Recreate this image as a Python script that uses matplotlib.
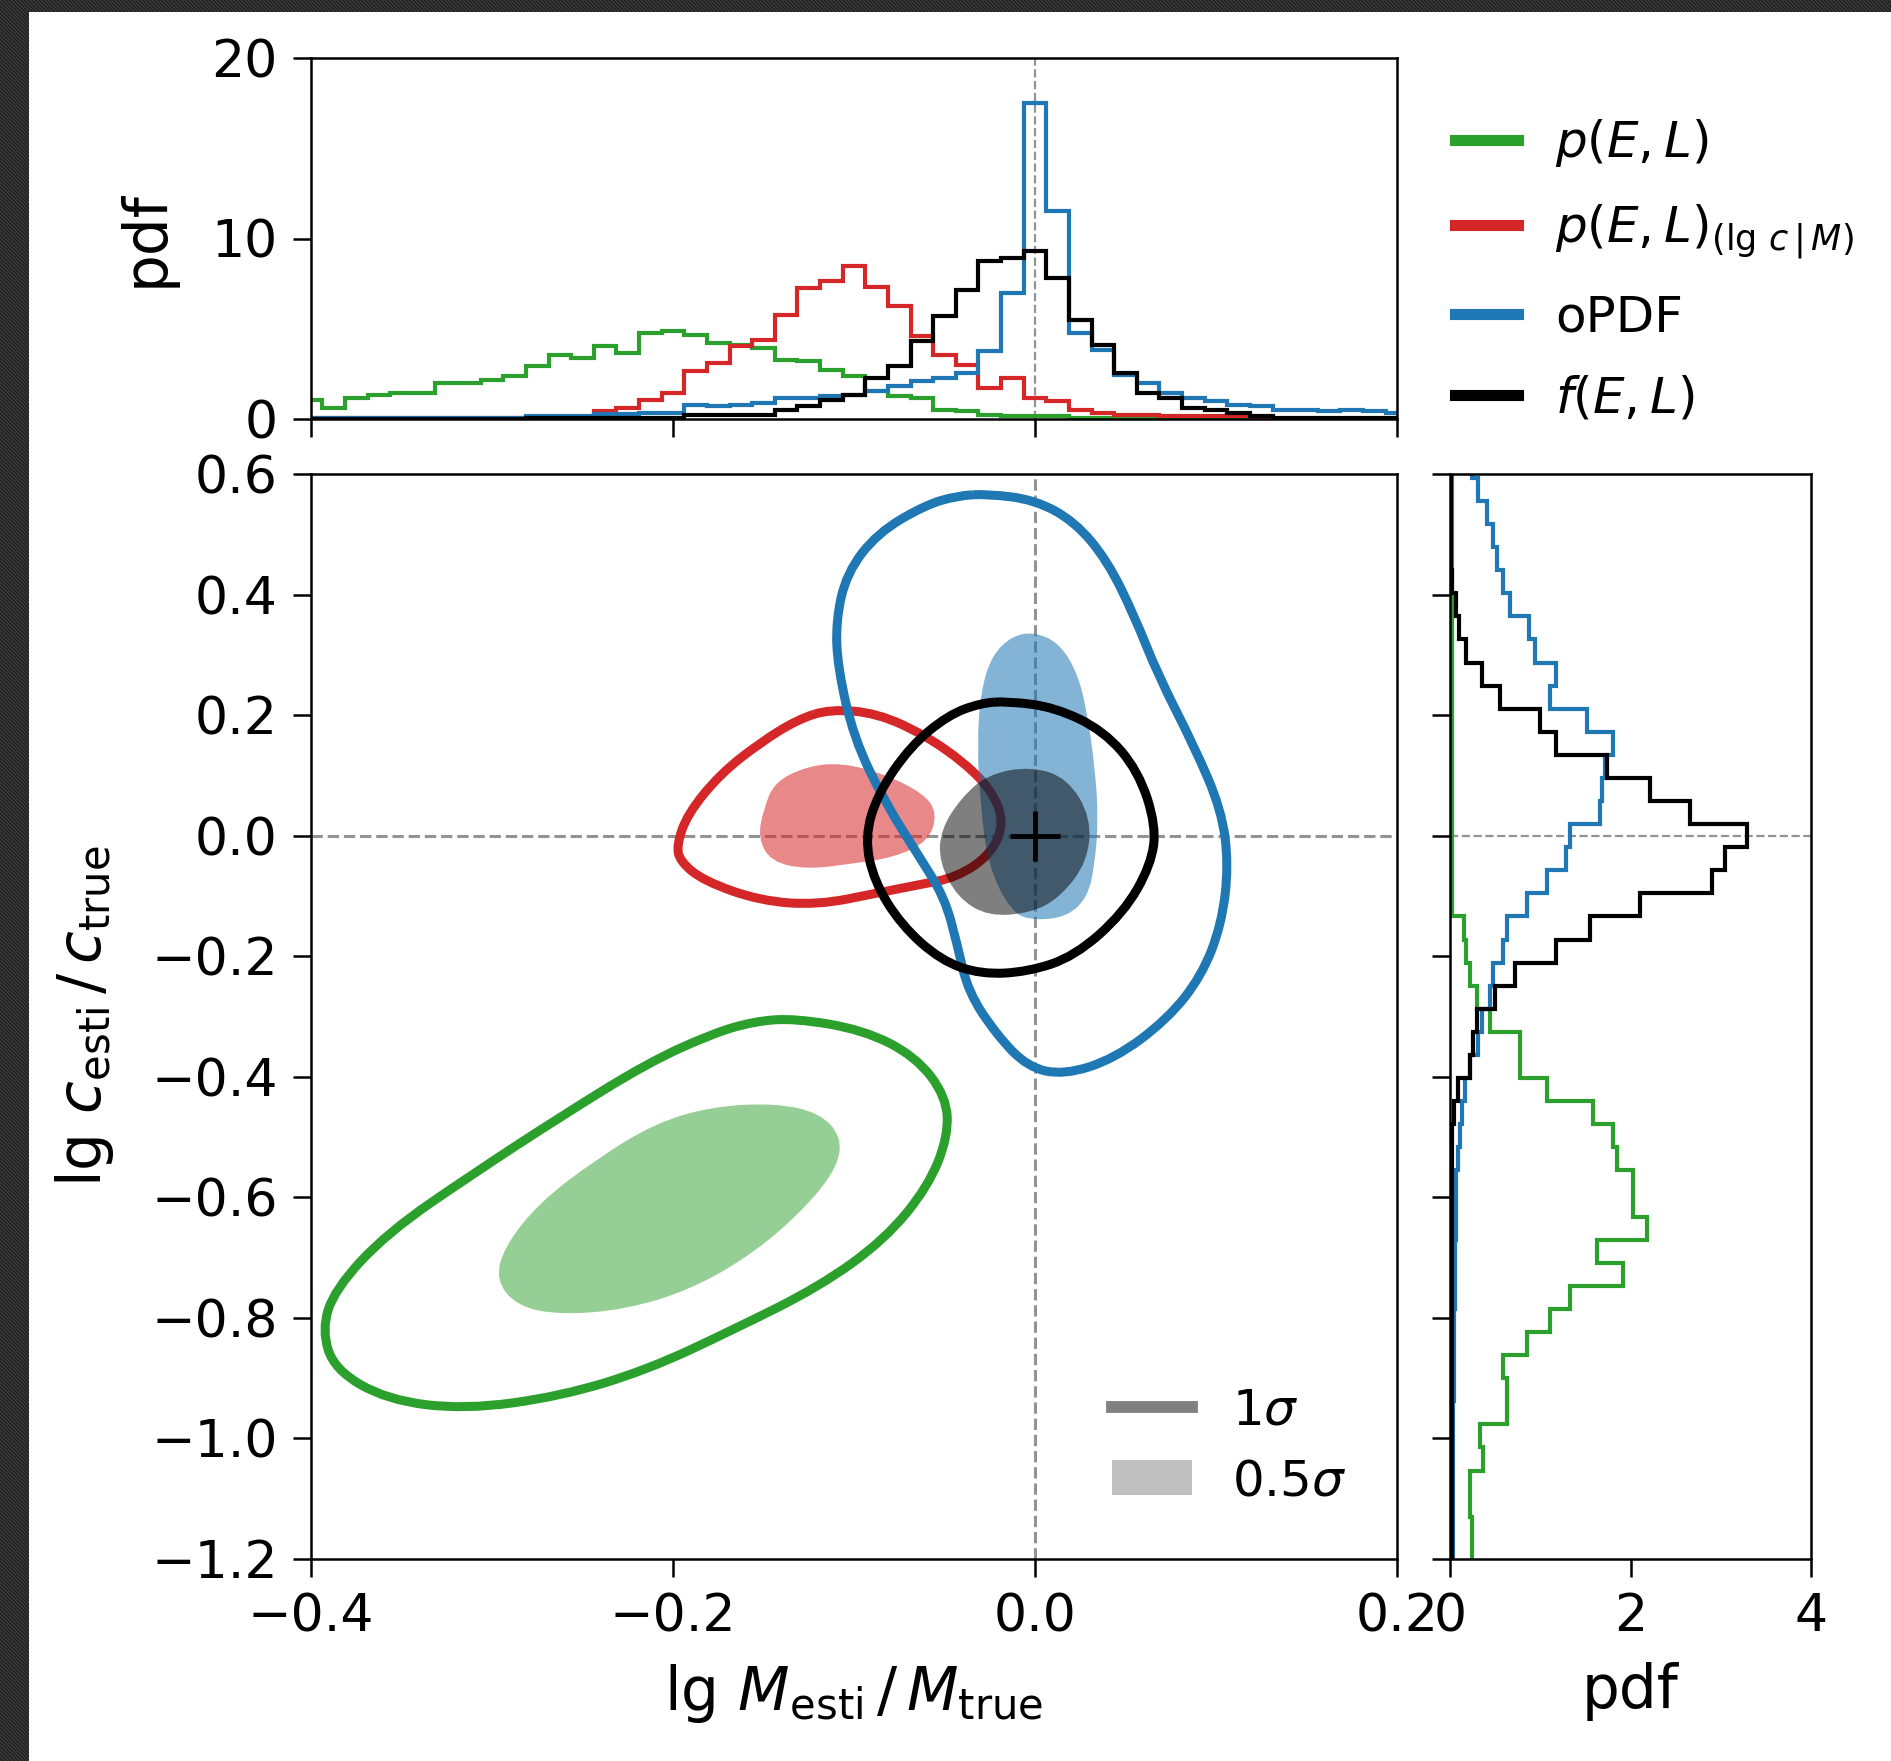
import numpy as np
import matplotlib
matplotlib.use('Agg')
import matplotlib.pyplot as plt
from matplotlib.path import Path
from matplotlib.patches import PathPatch, Rectangle, Patch
from matplotlib.lines import Line2D

# ---- marginal histogram of lg M_esti/M_true (top panel), 49 bins ----
m_edge0, m_width = -0.40625, 0.0125
pdf_m_green = [1.07, 0.61, 1.16, 1.35, 1.44, 1.44, 2.0, 2.0, 2.18, 2.36, 2.92, 3.56, 3.38, 4.02,
               3.65, 4.76, 4.85, 4.67, 4.2, 4.11, 3.93, 3.28, 3.19, 2.73, 2.36, 1.53, 1.25, 1.16,
               0.52, 0.42, 0.24, 0.15, 0.15, 0.15, 0.06, 0.03, 0.03, 0.02, 0.02, 0.01, 0.01, 0.01,
               0, 0, 0, 0, 0, 0, 0]
pdf_m_red = [0.03] * 10 + [0.1] * 3 + [
    0.42, 0.61, 1.07, 1.44, 2.64, 3.1, 4.02, 4.39, 5.77, 7.25, 7.62, 8.45, 7.34, 6.24, 4.58,
    3.56, 3.0, 1.72, 2.27, 1.16, 0.98, 0.52, 0.33, 0.24, 0.24, 0.15, 0.15, 0.15, 0.15, 0.1] + [0] * 6
pdf_m_blue = [0.03] * 5 + [0.06] * 5 + [0.15] * 3 + [0.3, 0.3, 0.33, 0.35] + [
    0.8, 0.7, 0.8, 0.89, 1.16, 1.16, 1.25, 1.35, 1.53, 1.81, 2.08, 2.27, 2.55, 3.75, 6.97, 17.49,
    11.5, 4.76, 3.84, 2.45, 2.0, 1.44, 1.16, 0.98, 0.8, 0.7, 0.52, 0.52, 0.42, 0.52, 0.42, 0.33]
pdf_m_black = [0.02] * 10 + [0.05] * 7 + [0.2] * 4 + [
    0.52, 0.7, 1.07, 1.35, 2.27, 2.92, 4.3, 5.68, 7.16, 8.73, 8.91, 9.28, 7.8, 5.5, 4.11, 2.55,
    1.44, 1.16, 0.61, 0.52, 0.33, 0.15] + [0.08] * 6

# ---- marginal histogram of lg c_esti/c_true (right panel), 48 bins, bottom to top ----
c_edge0, c_width = -1.2065, 0.0383
pdf_c_green = [0.24, 0.24, 0.22, 0.22, 0.37, 0.33, 0.63, 0.63, 0.59, 0.85, 1.11, 1.33, 1.92, 1.63,
               2.18, 2.03, 2.03, 1.85, 1.81, 1.59, 1.07, 0.78, 0.78, 0.44, 0.3, 0.22, 0.18, 0.15] + [0.02] * 20
pdf_c_black = [0.02] * 19 + [0.04, 0.09, 0.22, 0.26, 0.3, 0.5, 0.72, 1.18, 1.55, 2.11, 2.9, 3.05,
                             3.29, 2.66, 2.22, 1.74, 1.18, 1.0, 0.55, 0.35, 0.18, 0.1, 0.07, 0.02] + [0.01] * 5
pdf_c_blue = [0.03] * 7 + [0.04] * 4 + [0.06] * 3 + [0.07] * 3 + [
    0.09, 0.11, 0.13, 0.17, 0.22, 0.31, 0.35, 0.44, 0.48, 0.59, 0.63, 0.85, 1.07, 1.28, 1.33,
    1.66, 1.68, 1.72, 1.81, 1.52, 1.11, 1.18, 0.94, 0.87, 0.67, 0.59, 0.52, 0.48, 0.41, 0.31, 0.24]

# ---- contours (x = lg M ratio, y = lg c ratio) ----
green_1s_x = [-0.133, -0.095, -0.066, -0.049, -0.048, -0.059, -0.083, -0.119, -0.167, -0.214, -0.262,
              -0.315, -0.358, -0.387, -0.394, -0.387, -0.358, -0.310, -0.262, -0.214, -0.178, -0.155]
green_1s_y = [-0.303, -0.322, -0.366, -0.433, -0.499, -0.582, -0.670, -0.748, -0.820, -0.886, -0.930,
              -0.952, -0.936, -0.886, -0.820, -0.753, -0.659, -0.560, -0.466, -0.377, -0.328, -0.308]
green_05_x = [-0.143, -0.119, -0.107, -0.109, -0.126, -0.155, -0.190, -0.226, -0.262, -0.286, -0.298,
              -0.293, -0.274, -0.243, -0.210, -0.178]
green_05_y = [-0.444, -0.460, -0.499, -0.549, -0.615, -0.692, -0.753, -0.786, -0.795, -0.781, -0.737,
              -0.681, -0.609, -0.538, -0.477, -0.449]

red_1s_x = [-0.113, -0.087, -0.061, -0.039, -0.024, -0.017, -0.024, -0.043, -0.065, -0.087, -0.120,
            -0.152, -0.183, -0.196, -0.198, -0.192, -0.174, -0.152, -0.131]
red_1s_y = [0.210, 0.203, 0.167, 0.121, 0.075, 0.023, -0.030, -0.069, -0.082, -0.095, -0.115,
            -0.108, -0.075, -0.043, -0.016, 0.036, 0.102, 0.154, 0.193]
red_05_x = [-0.107, -0.083, -0.061, -0.054, -0.059, -0.078, -0.100, -0.126, -0.146, -0.153, -0.150,
            -0.144, -0.126]
red_05_y = [0.121, 0.102, 0.069, 0.036, -0.010, -0.036, -0.046, -0.056, -0.043, -0.003, 0.043,
            0.089, 0.115]

blue_1s_x = [-0.026, 0.0, 0.022, 0.040, 0.055, 0.068, 0.088, 0.103, 0.107, 0.103, 0.092, 0.073,
             0.044, 0.016, -0.004, -0.021, -0.037, -0.043, -0.050, -0.065, -0.083, -0.100, -0.109,
             -0.110, -0.104, -0.087, -0.061, -0.043]
blue_1s_y = [0.567, 0.557, 0.521, 0.456, 0.364, 0.266, 0.148, 0.043, -0.049, -0.148, -0.233, -0.305,
             -0.370, -0.397, -0.384, -0.331, -0.259, -0.180, -0.102, -0.030, 0.056, 0.161, 0.279,
             0.357, 0.436, 0.502, 0.548, 0.564]
blue_05_x = [0.0, 0.014, 0.024, 0.029, 0.033, 0.035, 0.033, 0.029, 0.018, 0.0, -0.013, -0.026,
             -0.030, -0.032, -0.030, -0.024, -0.013]
blue_05_y = [0.338, 0.318, 0.266, 0.200, 0.115, 0.030, -0.049, -0.102, -0.134, -0.141, -0.128,
             -0.049, 0.049, 0.148, 0.239, 0.298, 0.331]

black_1s_x = [-0.015, 0.011, 0.038, 0.057, 0.067, 0.064, 0.049, 0.022, -0.004, -0.030, -0.052,
              -0.074, -0.089, -0.094, -0.087, -0.069, -0.048, -0.030]
black_1s_y = [0.223, 0.213, 0.174, 0.108, 0.016, -0.049, -0.128, -0.200, -0.226, -0.230, -0.207,
              -0.148, -0.075, -0.003, 0.069, 0.148, 0.200, 0.220]
black_05_x = [-0.002, 0.018, 0.031, 0.029, 0.014, -0.002, -0.026, -0.043, -0.053, -0.052, -0.041, -0.026]
black_05_y = [0.115, 0.095, 0.030, -0.043, -0.102, -0.128, -0.134, -0.102, -0.043, 0.010, 0.062, 0.102]

GREEN, RED, BLUE, BLACK = '#2ca02c', '#d62728', '#1f77b4', 'k'
labels = ['$p(E,L)$', r'$p(E,L)_{(\lg\,c\,|\,M)}$', 'oPDF', '$f(E,L)$']


def closed_curve(xs, ys):
    # smooth closed outline through the read points (quadratic bezier segments)
    pts = np.column_stack([xs, ys])
    mids = (pts + np.roll(pts, -1, axis=0)) / 2
    verts = [mids[-1]]
    codes = [Path.MOVETO]
    for p, m in zip(pts, mids):
        verts += [p, m]
        codes += [Path.CURVE3, Path.CURVE3]
    return Path(verts, codes)


W, H = 1891, 1761
fig = plt.figure(figsize=(W / 100, H / 100), dpi=100)
fig.patch.set_facecolor('white')

# dark striped screenshot border (left and top)
for rect in [(0, 0, 29 / W, 1), (0, 1 - 12 / H, 1, 12 / H)]:
    fig.add_artist(Rectangle(rect[:2], rect[2], rect[3], transform=fig.transFigure,
                             facecolor='#1b1b1b', edgecolor='#3d3d3d', hatch='\\' * 9, lw=0))

ax = fig.add_axes([311 / W, 1 - 1559 / H, 1086 / W, 1085 / H])
ax_top = fig.add_axes([311 / W, 1 - 419 / H, 1086 / W, 361 / H])
ax_right = fig.add_axes([1450 / W, 1 - 1559 / H, 361 / W, 1085 / H])

tick_fs, label_fs = 37.5, 43
for a in (ax, ax_top, ax_right):
    for s in a.spines.values():
        s.set_linewidth(1.8)
    a.tick_params(direction='out', length=13, width=1.8, labelsize=tick_fs, pad=11)

# joint panel
models = [(green_1s_x, green_1s_y, green_05_x, green_05_y, GREEN, 0.5),
          (red_1s_x, red_1s_y, red_05_x, red_05_y, RED, 0.55),
          (blue_1s_x, blue_1s_y, blue_05_x, blue_05_y, BLUE, 0.55),
          (black_1s_x, black_1s_y, black_05_x, black_05_y, BLACK, 0.5)]
for x1, y1, x5, y5, col, alp in models:
    ax.add_patch(PathPatch(closed_curve(x1, y1), facecolor='none', edgecolor=col, lw=6.5))
    ax.add_patch(PathPatch(closed_curve(x5, y5), facecolor=col, edgecolor='none', alpha=alp))

ax.axvline(0, color='gray', ls='--', lw=2.2, alpha=0.85, zorder=0.5)
ax.axhline(0, color='gray', ls='--', lw=2.2, alpha=0.85, zorder=0.5)
ax.plot([0], [0], marker='+', ms=36, mew=3.5, color='k', zorder=5)

ax.set_xlim(-0.4, 0.2)
ax.set_ylim(-1.2, 0.6)
ax.set_xticks([-0.4, -0.2, 0.0, 0.2])
ax.set_yticks([-1.2, -1.0, -0.8, -0.6, -0.4, -0.2, 0.0, 0.2, 0.4, 0.6])
ax.set_xlabel(r'$\lg\,M_{\rm esti}\,/\,M_{\rm true}$', fontsize=label_fs, labelpad=14)
ax.set_ylabel(r'$\lg\,c_{\rm esti}\,/\,c_{\rm true}$', fontsize=label_fs, labelpad=25)

ax.legend(handles=[Line2D([], [], color='gray', lw=8.5), Patch(facecolor='#c0c0c0', edgecolor='none')],
          labels=[r'$1\sigma$', r'$0.5\sigma$'], loc='lower left',
          bbox_to_anchor=(1112 / W, 1 - 1505 / H), bbox_transform=fig.transFigure,
          frameon=False, fontsize=36, handlelength=1.6, handletextpad=0.8,
          labelspacing=0.45, borderpad=0, borderaxespad=0)

# top marginal
m_edges = m_edge0 + m_width * np.arange(len(pdf_m_green) + 1)
for vals, col in [(pdf_m_green, GREEN), (pdf_m_red, RED), (pdf_m_blue, BLUE), (pdf_m_black, BLACK)]:
    ax_top.stairs(vals, m_edges, color=col, lw=3)
ax_top.axvline(0, color='gray', ls='--', lw=1.6, alpha=0.85, zorder=0.5)
ax_top.set_xlim(-0.4, 0.2)
ax_top.set_ylim(0, 20)
ax_top.set_xticks([-0.4, -0.2, 0.0, 0.2])
ax_top.set_yticks([0, 10, 20])
ax_top.tick_params(axis='x', labelbottom=False)
ax_top.set_ylabel('pdf', fontsize=label_fs, labelpad=26)

# right marginal
c_edges = c_edge0 + c_width * np.arange(len(pdf_c_green) + 1)
for vals, col in [(pdf_c_green, GREEN), (pdf_c_blue, BLUE), (pdf_c_black, BLACK)]:
    ax_right.stairs(vals, c_edges, orientation='horizontal', color=col, lw=3)
ax_right.axhline(0, color='gray', ls='--', lw=1.6, alpha=0.85, zorder=0.5)
ax_right.set_ylim(-1.2, 0.6)
ax_right.set_xlim(0, 4)
ax_right.set_xticks([0, 2, 4])
ax_right.set_yticks([-1.2, -1.0, -0.8, -0.6, -0.4, -0.2, 0.0, 0.2, 0.4, 0.6])
ax_right.tick_params(axis='y', labelleft=False)
ax_right.set_xlabel('pdf', fontsize=label_fs, labelpad=14)

# model legend to the right of the top panel
handles = [Line2D([], [], color=c, lw=8) for c in (GREEN, RED, BLUE, BLACK)]
fig.legend(handles=handles, labels=labels, loc='upper left',
           bbox_to_anchor=(1455 / W, 1 - 117 / H), frameon=False, fontsize=36,
           handlelength=1.25, handletextpad=0.75, labelspacing=0.66,
           borderpad=0, borderaxespad=0)

fig.savefig('out.png', dpi=100)
